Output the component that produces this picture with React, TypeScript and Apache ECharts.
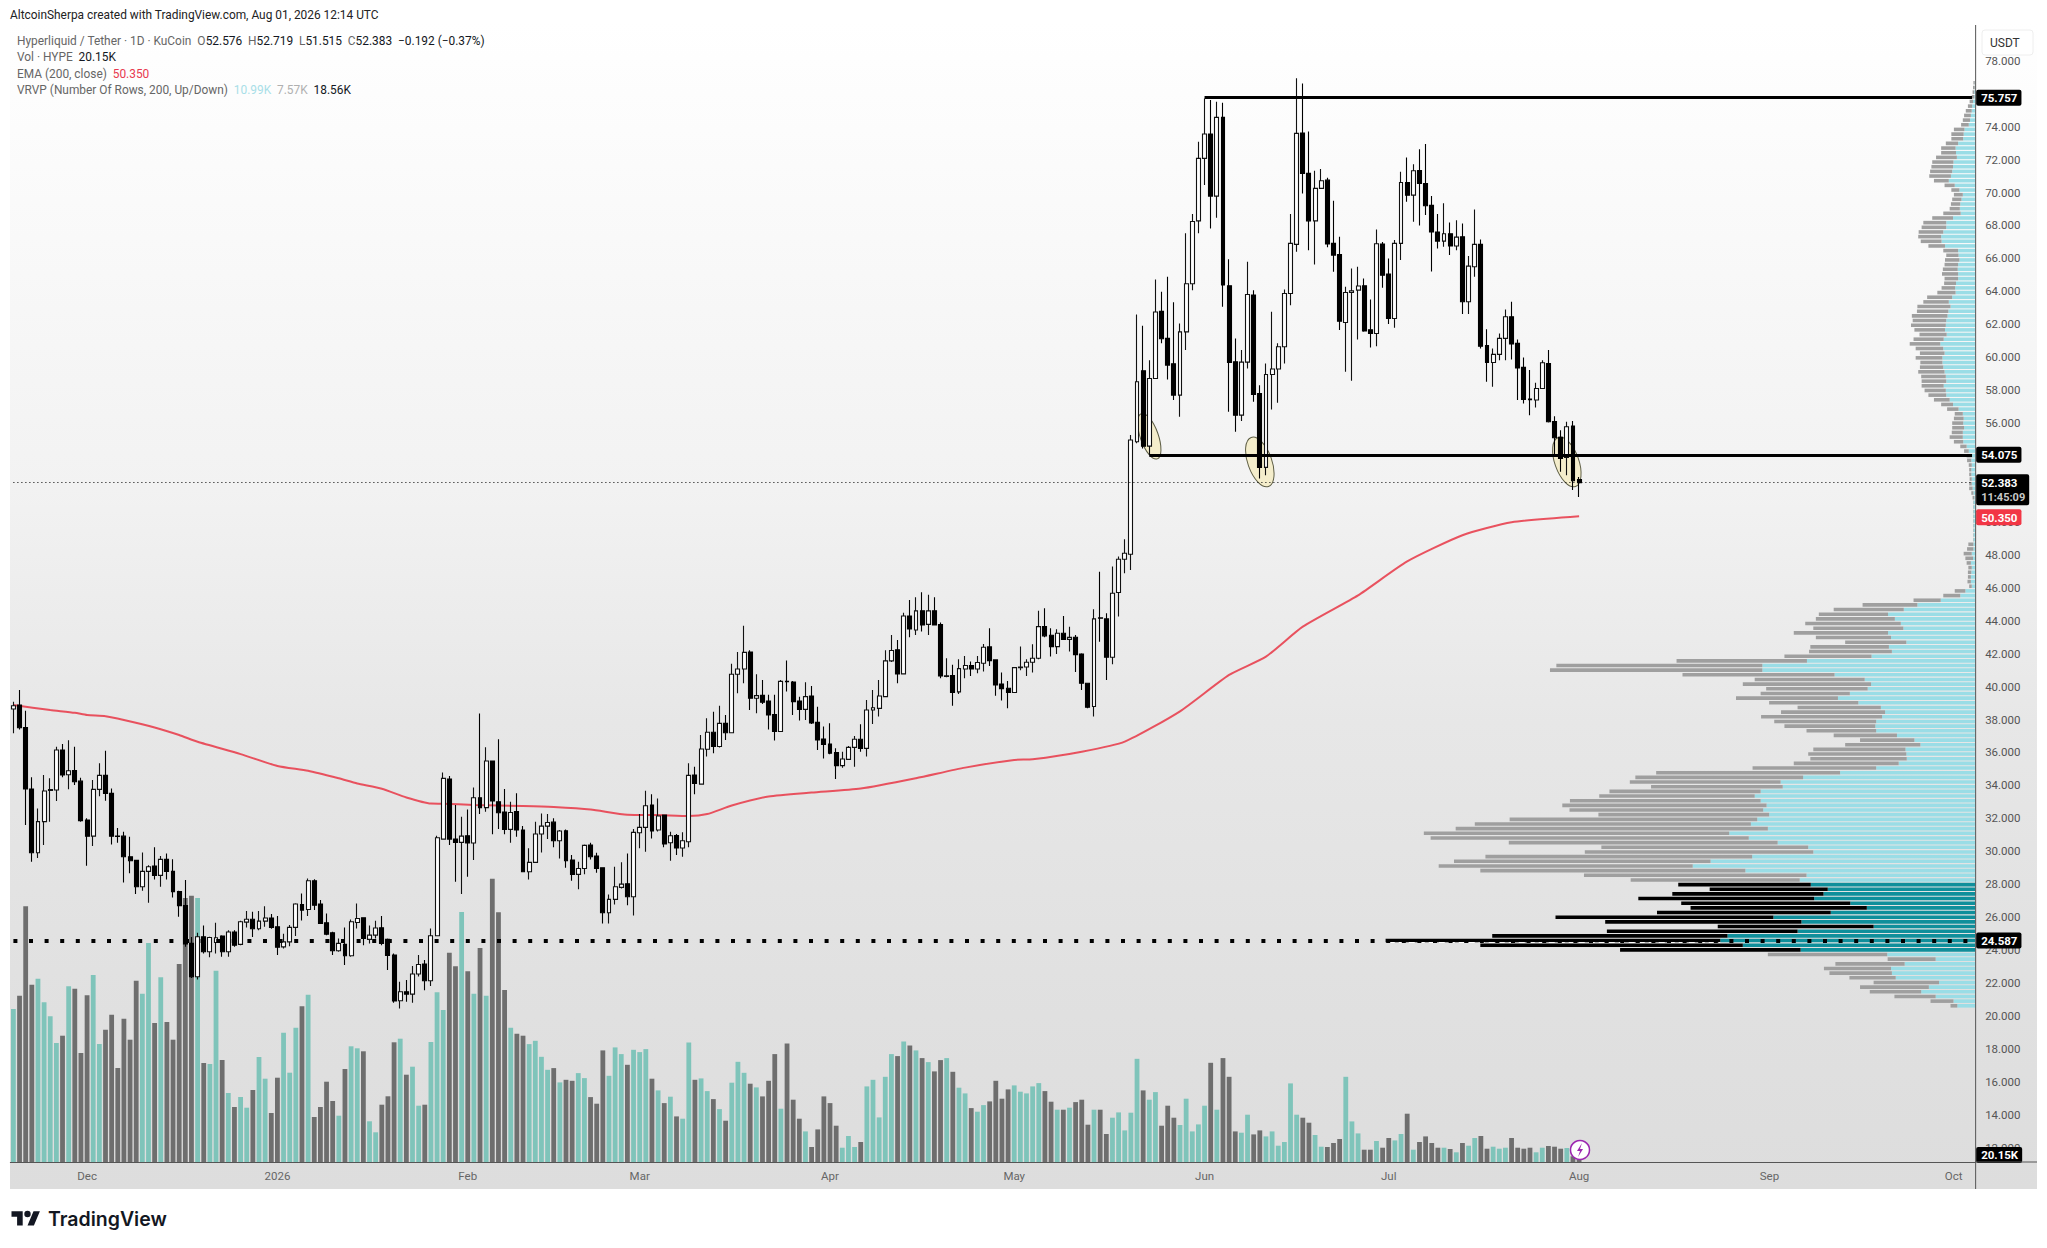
import React, { useEffect, useRef } from "react";
import * as echarts from "echarts";

const FONT = "Roboto, 'Noto Sans', sans-serif";

const opens = [
  38.64,38.88,37.52,33.78,29.91,31.80,33.70,33.72,36.15,34.65,
  34.91,34.26,31.90,30.92,33.76,34.61,33.52,30.92,30.92,29.67,
  29.45,27.85,28.78,29.10,28.54,29.51,28.78,27.55,26.70,24.41,
  22.38,24.81,23.90,24.46,24.85,23.90,25.10,24.35,25.70,25.87,
  25.30,25.76,25.95,25.42,24.20,24.50,25.38,26.77,26.47,28.21,
  26.80,25.66,25.05,23.96,24.35,23.66,25.68,25.96,24.65,24.91,
  25.36,24.65,23.70,20.93,21.47,21.33,22.55,23.15,22.14,24.87,
  30.74,34.39,30.74,30.54,30.94,30.50,33.25,32.65,35.48,33.01,
  32.38,31.33,32.42,31.29,28.76,29.33,31.05,31.53,31.77,30.64,
  31.25,29.47,28.60,28.96,30.38,29.71,29.00,26.27,27.08,27.81,
  28.03,27.24,31.13,31.45,32.81,31.29,32.20,30.52,30.96,30.20,
  30.58,34.63,34.08,36.20,37.23,36.36,37.77,37.20,40.75,41.07,
  42.10,39.29,39.47,39.13,38.30,37.27,40.32,40.28,39.13,38.62,
  39.43,37.83,36.82,36.51,35.99,35.20,35.58,36.31,36.80,36.25,
  38.58,38.68,39.39,41.56,42.23,40.77,44.29,43.44,44.60,43.78,
  44.60,43.76,40.62,40.67,39.68,41.07,41.28,41.07,41.42,42.41,
  41.62,40.16,39.90,39.64,41.15,41.19,41.48,41.72,43.64,43.12,
  42.43,43.24,42.87,43.00,41.98,40.20,38.79,44.17,44.11,41.78,
  45.71,47.73,48.04,54.87,59.18,54.60,58.71,62.78,61.14,59.60,
  57.70,61.54,64.46,68.28,72.07,73.55,69.78,74.56,64.34,59.72,
  56.48,59.70,63.77,57.80,53.31,58.95,59.28,60.63,63.87,66.85,
  73.61,71.16,68.28,70.25,70.75,66.91,66.24,62.11,63.93,64.07,
  64.34,61.67,61.44,66.87,65.05,62.35,66.91,70.61,69.84,71.34,
  70.55,69.22,67.60,67.05,67.50,66.75,67.31,63.37,65.49,66.85,
  60.71,59.68,60.17,61.14,62.46,60.84,59.38,57.46,57.40,58.10,
  59.62,56.10,55.13,53.91,55.82,52.576,
];
const closes = [
  38.84,37.50,33.78,29.91,31.80,33.66,33.75,36.15,34.63,34.89,
  34.22,31.86,30.92,33.76,34.61,33.52,30.92,30.90,29.67,29.43,
  27.85,28.78,29.06,28.54,29.51,28.78,27.55,26.70,24.37,22.38,
  24.81,23.90,24.77,24.75,23.90,25.10,24.30,25.72,25.87,25.30,
  25.76,25.95,25.38,24.17,24.50,25.38,26.80,26.43,28.21,26.73,
  25.62,24.97,23.96,24.41,23.66,25.72,25.92,24.71,24.91,25.34,
  24.41,23.68,20.91,21.47,21.33,22.55,23.13,22.14,24.87,30.82,
  34.43,30.74,30.54,30.92,30.50,33.25,32.65,35.48,33.05,32.34,
  31.33,32.36,31.29,28.76,29.33,31.05,31.53,31.75,30.64,31.23,
  29.43,28.60,28.96,30.36,29.67,28.96,26.27,27.08,27.85,28.01,
  27.24,31.15,31.45,32.77,31.23,32.14,30.44,30.94,30.20,30.64,
  34.61,34.12,36.21,37.23,36.36,37.77,37.20,40.75,41.07,42.08,
  39.29,39.45,39.05,38.28,37.27,40.32,40.30,39.09,38.62,39.39,
  37.79,36.76,36.49,35.95,35.20,35.60,36.31,36.80,36.25,38.58,
  38.72,39.43,41.56,42.19,40.77,44.29,43.50,44.60,43.74,44.60,
  43.74,40.65,40.65,39.64,41.09,41.28,41.07,41.46,42.39,41.58,
  40.10,39.88,39.64,41.15,41.19,41.48,41.72,43.64,43.08,42.43,
  43.24,42.87,42.99,41.94,40.20,38.75,44.11,44.15,41.78,45.67,
  47.73,48.10,54.97,58.51,54.60,58.71,62.74,61.12,59.52,57.70,
  61.54,64.46,68.24,72.07,73.55,69.78,74.56,64.38,59.68,56.48,
  59.70,63.81,57.74,53.31,58.95,59.28,60.63,63.87,66.91,73.59,
  71.16,68.28,70.25,70.71,66.87,66.20,62.19,63.93,64.03,64.32,
  61.59,61.44,66.89,64.98,62.35,66.91,70.61,69.84,71.32,70.55,
  69.20,67.60,67.05,67.50,66.75,67.29,63.37,65.53,66.85,60.67,
  59.68,60.17,61.14,62.46,60.80,59.34,57.44,57.42,58.10,59.66,
  56.08,55.11,53.85,55.78,52.50,52.383,
];
const highs = [
  39.08,39.79,38.54,34.49,32.60,34.63,34.43,36.35,36.51,36.75,
  36.35,34.47,32.00,34.33,35.34,36.11,33.82,31.41,31.19,30.88,
  29.45,29.93,29.16,30.24,29.71,29.87,29.51,27.60,28.25,24.80,
  25.06,25.50,24.81,25.66,24.90,25.20,25.20,25.78,26.37,26.33,
  26.37,26.67,26.20,26.07,25.00,25.52,26.84,27.44,28.35,28.31,
  27.04,26.23,25.12,24.70,25.38,25.86,26.83,26.00,25.50,25.78,
  26.07,24.71,23.80,22.08,22.18,23.03,23.70,23.40,25.32,30.95,
  34.79,34.57,32.81,32.10,32.54,33.88,38.37,36.31,35.48,36.81,
  33.78,33.01,33.52,31.53,30.18,31.80,32.30,32.26,32.00,31.29,
  31.33,29.77,29.37,30.42,30.52,29.91,29.00,27.38,29.06,29.33,
  29.87,31.35,32.26,33.68,33.47,33.21,32.20,31.19,31.05,31.15,
  35.34,35.14,37.06,38.08,38.48,38.83,38.28,41.38,42.10,43.70,
  42.20,40.75,40.40,39.50,39.50,40.40,41.58,40.34,39.39,40.26,
  40.04,38.78,37.57,37.77,36.25,36.05,36.40,37.00,37.71,39.19,
  39.80,40.40,42.20,43.14,42.83,44.49,45.26,45.42,45.73,45.57,
  45.42,43.89,41.72,41.32,41.66,41.86,41.52,41.86,42.59,43.54,
  41.62,40.85,40.34,41.15,42.43,41.66,42.57,44.61,44.76,43.54,
  43.48,44.29,43.64,43.14,42.02,40.20,44.70,46.98,44.45,47.29,
  47.90,48.95,55.27,62.60,61.91,59.82,64.72,63.97,64.88,63.33,
  62.05,67.52,68.69,73.08,75.71,75.61,75.51,75.45,65.94,61.14,
  60.43,65.80,64.07,58.30,59.62,62.76,60.84,64.11,68.69,76.93,
  76.62,73.71,71.32,71.42,70.90,69.50,67.31,64.28,65.39,65.49,
  64.78,63.50,67.76,67.00,66.00,67.11,71.26,72.13,71.71,72.62,
  72.94,69.78,68.69,69.34,68.18,68.32,68.12,66.14,68.97,67.15,
  61.69,60.53,61.44,62.90,63.37,61.08,59.98,59.22,58.45,59.82,
  60.43,56.42,55.57,56.08,56.12,52.719,
];
const lows = [
  37.16,37.40,31.59,29.37,29.60,30.38,31.80,33.05,34.49,33.76,
  34.02,31.80,29.12,30.32,33.35,33.07,30.42,30.52,28.11,28.66,
  27.40,27.60,26.88,28.29,27.85,28.29,27.20,26.03,24.20,22.30,
  22.22,23.80,23.56,23.80,23.60,23.60,24.20,24.30,25.38,24.80,
  25.20,25.42,25.30,23.70,24.10,24.24,24.85,25.80,26.07,26.43,
  25.58,24.91,23.70,23.90,23.09,23.60,25.32,24.30,24.40,24.70,
  24.30,22.79,20.80,20.46,20.87,20.81,22.40,21.57,21.82,24.87,
  30.70,30.38,28.15,27.40,28.46,29.47,32.26,32.40,31.03,31.35,
  31.03,30.52,30.88,28.76,28.29,29.30,29.93,30.74,30.24,29.57,
  29.00,28.21,27.70,28.60,29.50,28.70,25.62,25.62,26.77,27.74,
  26.73,26.10,30.18,29.97,30.78,31.20,30.24,29.43,29.77,29.67,
  30.24,33.47,34.08,35.75,35.95,36.30,36.76,37.17,39.60,40.20,
  38.58,38.38,38.95,37.40,36.72,37.27,39.70,38.28,37.94,37.97,
  37.73,36.15,35.64,35.90,34.39,35.08,35.54,35.14,36.05,35.75,
  37.73,38.18,39.39,41.50,40.20,40.77,43.00,43.14,43.34,43.14,
  43.74,40.50,40.57,38.83,39.55,40.50,40.65,40.81,40.91,41.25,
  39.45,39.15,38.68,39.64,41.00,40.65,40.85,41.66,43.00,41.82,
  41.98,42.83,42.13,40.89,39.80,38.68,38.18,42.73,40.40,41.36,
  44.25,46.88,47.08,54.77,54.46,54.06,58.71,60.84,58.65,57.40,
  56.38,60.43,64.07,67.52,70.45,67.82,68.47,63.06,56.69,55.47,
  56.12,59.32,57.29,52.64,52.84,56.83,57.23,59.62,63.16,66.40,
  69.94,66.50,65.63,70.25,66.67,65.19,61.65,59.12,58.57,61.08,
  61.54,60.59,60.67,64.22,62.01,61.79,65.90,69.44,68.22,67.99,
  68.63,65.20,66.60,66.70,66.20,66.50,62.62,62.62,64.88,60.53,
  58.51,58.20,59.82,59.82,59.86,57.40,57.19,56.48,56.95,58.10,
  56.04,54.10,53.04,52.84,51.93,51.515,
];
const volumes = [
  1530,1663,2557,1773,1833,1597,1457,1190,1263,1757,
  1733,1090,1667,1870,1180,1323,1473,940,1433,1223,
  1813,1683,2190,1390,1847,1400,1223,1980,2640,2663,
  2640,990,980,1913,1020,690,550,650,543,720,
  1050,833,490,843,1293,893,1343,1557,1673,450,
  550,803,610,463,930,1157,1137,1107,407,297,
  573,657,1197,1233,873,953,563,573,1200,1697,
  1520,2093,1957,2500,1907,1683,2140,1663,2833,2497,
  1720,1343,1283,1263,1179,1212,1052,922,939,796,
  822,812,889,839,649,583,1116,862,1146,1079,
  972,1122,1099,1129,833,716,589,653,456,433,
  1195,822,836,709,629,529,413,793,1002,892,
  783,746,656,812,1079,533,1185,623,433,306,
  150,326,656,589,363,143,260,150,200,756,
  822,446,852,1079,1059,1205,1165,1116,1039,999,
  906,1019,1039,902,743,686,539,503,569,606,
  812,633,726,766,703,686,756,789,709,603,
  523,523,543,599,623,373,523,523,280,443,
  496,316,493,1032,716,623,699,363,563,443,
  370,633,306,376,563,992,523,1039,852,306,
  293,473,276,316,256,306,163,200,786,473,
  443,393,270,153,150,190,230,852,406,286,
  123,123,210,143,240,216,280,483,123,200,
  256,190,143,143,130,97,190,163,240,260,
  133,153,133,143,240,143,133,143,97,143,
  160,153,133,140,57,20.15,
];

const emaIndex = [0,6,10,12,15,18,23,27,30,37,43,48,53,56,60,64,68,70,75,83,88,94,100,105,110,113,117,123,130,138,147,155,163,166,174,181,190,198,204,210,219,227,236,244,255];
const emaValues = [38.88,38.58,38.41,38.27,38.2,37.97,37.52,37.06,36.65,35.9,35.18,34.89,34.43,34.12,33.8,33.27,32.9,32.89,32.81,32.75,32.69,32.54,32.22,32.2,32.14,32.26,32.78,33.33,33.57,33.81,34.44,35.08,35.55,35.59,36.05,36.66,38.5,40.71,41.82,43.64,45.54,47.6,49.19,49.98,50.35];

// Volume profile rows, lowest price first: buy volume and sell volume.
const vrvpUp = [
  42,51,93,127,109,85,187,196,198,166,93,207,411,547,600,583,418,239,409,475,340,255,294,379,357,347,387,413,397,541,
  665,623,525,381,393,465,533,579,488,528,513,485,499,491,505,519,505,453,458,405,318,233,180,161,162,164,129,143,184,233,
  235,233,219,212,222,275,323,295,253,245,260,331,501,501,396,244,196,203,162,198,205,169,175,189,205,168,136,81,35,23,
  8,10,10,9,8,10,5,8,4,4,
  4,4,4,4,4,4,4,4,4,2,4,6,8,8,9,9,8,9,8,15,20,28,29,29,26,28,27,29,39,52,60,68,69,74,68,69,72,75,77,77,
  72,75,82,74,67,71,69,68,65,63,58,62,54,46,47,45,40,40,41,40,37,39,40,71,79,80,75,68,68,52,34,36,35,32,29,37,48,62,57,54,
  52,51,43,45,46,40,28,27,25,15,12,10,8,7,5,2,2,1,1,
];
const vrvpDown = [
  16,54,97,121,162,154,109,147,158,163,113,281,425,618,788,554,449,367,462,513,409,415,398,414,356,278,312,398,524,624,
  598,604,628,538,487,633,749,719,735,650,583,402,456,481,449,366,356,310,355,395,433,291,247,227,231,217,177,128,149,164,
  214,240,285,245,196,210,240,210,239,302,259,358,500,485,307,205,195,185,144,177,222,212,225,186,163,165,129,64,40,25,
  6,8,7,8,8,10,18,19,15,12,
  1,1,1,1,1,1,1,1,1,4,5,8,6,5,5,5,7,10,12,11,15,22,31,26,28,26,23,19,27,28,37,42,50,52,58,58,62,55,52,63,
  58,65,72,71,64,72,82,79,84,74,78,60,59,43,32,28,32,38,35,32,34,29,35,39,49,54,58,58,54,49,41,24,22,22,21,19,24,35,51,52,
  51,50,49,35,34,29,28,29,25,18,17,16,14,10,8,6,4,4,3,
];
const vrvpLowPrice = 20.62;
const vrvpHighPrice = 76.66;
const valueAreaLow = 23.85;
const valueAreaHigh = 28.15;

const tickLabels: Record<string, string> = {
  "2025-12-01": "Dec", "2026-01-01": "2026", "2026-02-01": "Feb", "2026-03-01": "Mar",
  "2026-04-01": "Apr", "2026-05-01": "May", "2026-06-01": "Jun", "2026-07-01": "Jul",
  "2026-08-01": "Aug", "2026-09-01": "Sep", "2026-10-01": "Oct",
};
const categories: string[] = [];
for (let i = 0; i < 320; i++) {
  categories.push(new Date(Date.UTC(2025, 10, 19 + i)).toISOString().slice(0, 10));
}
const hiddenPriceLabels = [10, 52, 54, 76, 80];

const ellipses = [
  { i: 185, price: 55.2, rx: 9, ry: 24 },
  { i: 203, price: 53.64, rx: 12, ry: 26 },
  { i: 253, price: 53.64, rx: 12, ry: 26 },
];

const LEFT = 10.33;
const RIGHT_X = 1975.13;
const PRICE_TOP = 27.8;
const PRICE_BOTTOM = 1180.7;
const VOL_BASE = 1162;

echarts.graphic.registerShape(
  "tvLogo",
  echarts.graphic.extendPath("M14 22H7V11H0V4h14v18zM28 22h-8l7.5-18h8L28 22zM24 7.5a4 4 0 1 1-8 0 4 4 0 0 1 8 0z", {})
);

function tag(value: number, text: string, bg: string, offset: number[] = [0, 0]) {
  return {
    yAxis: value,
    lineStyle: { color: "rgba(0,0,0,0)", width: 0 },
    label: {
      show: true, position: "end", distance: 1, formatter: text, offset, opacity: 1,
      color: "#fff", backgroundColor: bg, borderRadius: 2, padding: [2, 4, 1, 5],
      fontFamily: FONT, fontSize: 11.5, fontWeight: "bold", lineHeight: 13, align: "left",
      rich: {
        t: { color: "#fff", fontFamily: FONT, fontSize: 11.5, fontWeight: "bold", lineHeight: 14 },
        s: { color: "#c8c8c8", fontFamily: FONT, fontSize: 11, lineHeight: 14 },
      },
    },
  };
}

function hLine(start: number, value: number, width: number, type: any, end = 319, color = "#000") {
  return [
    { coord: [start, value], lineStyle: { color, width, type, cap: "butt" }, label: { show: false } },
    { coord: [end, value] },
  ];
}

export default function App() {
  const ref = useRef<HTMLDivElement>(null);
  useEffect(() => {
    const chart = echarts.init(ref.current!, undefined, { renderer: "svg" });
    const candleData = opens.map((o, i) => [o, closes[i], lows[i], highs[i]]);
    const volData = volumes.map((v, i) => ({
      value: v,
      itemStyle: { color: closes[i] >= opens[i] ? "#7fc4ba" : "#6e6e6e" },
    }));
    const step = (vrvpHighPrice - vrvpLowPrice) / (vrvpUp.length - 1);
    const vrvpData = vrvpUp.map((u, i) => [vrvpLowPrice + i * step, u, vrvpDown[i]]);

    const text = (x: number, y: number, t: string, rich: any, extra: any = {}) => ({
      type: "text", x, y, z: 100,
      style: { text: t, fontFamily: FONT, fontSize: 11.9, fill: "#555", verticalAlign: "middle", rich, ...extra },
    });
    const richBase = {
      l: { fill: "#666", fontFamily: FONT, fontSize: 11.9 },
      v: { fill: "#131722", fontFamily: FONT, fontSize: 11.9 },
      r: { fill: "#e8384f", fontFamily: FONT, fontSize: 11.9 },
      c: { fill: "#a9dfe8", fontFamily: FONT, fontSize: 11.9 },
      g: { fill: "#b0b0b0", fontFamily: FONT, fontSize: 11.9 },
    };

    chart.setOption({
      animation: false,
      backgroundColor: "#ffffff",
      grid: [
        { left: LEFT, top: PRICE_TOP, width: RIGHT_X - LEFT, height: PRICE_BOTTOM - PRICE_TOP },
        { left: LEFT, top: VOL_BASE - 300, width: RIGHT_X - LEFT, height: 300 },
        { left: LEFT, top: PRICE_TOP, width: RIGHT_X - LEFT, height: PRICE_BOTTOM - PRICE_TOP },
      ],
      xAxis: [
        { gridIndex: 0, type: "category", data: categories, show: false },
        {
          gridIndex: 1, type: "category", data: categories,
          axisLine: { lineStyle: { color: "#555", width: 1 } },
          axisTick: { show: false },
          axisLabel: {
            color: "#666", fontFamily: FONT, fontSize: 11.5, margin: 8,
            interval: (_: number, v: string) => v in tickLabels,
            formatter: (v: string) => tickLabels[v] ?? "",
          },
        },
        { gridIndex: 2, type: "value", min: 0, max: 4626, inverse: true, show: false },
      ],
      yAxis: [
        {
          gridIndex: 0, type: "value", position: "right", min: 10, max: 80, interval: 2,
          splitLine: { show: false }, axisTick: { show: false }, axisLine: { show: false },
          axisLabel: {
            color: "#555", fontFamily: FONT, fontSize: 11.5, margin: 10,
            formatter: (v: number) => (hiddenPriceLabels.includes(v) ? "" : v.toFixed(3)),
          },
        },
        { gridIndex: 1, type: "value", min: 0, max: 3000, show: false, splitLine: { show: false } },
        { gridIndex: 2, type: "value", min: 10, max: 80, interval: 2, show: false, splitLine: { show: false } },
      ],
      series: [
        {
          type: "bar", name: "Vol", xAxisIndex: 1, yAxisIndex: 1, data: volData, barWidth: 4.8, z: 1,
          markLine: {
            silent: true, symbol: "none", z: 20, animation: false,
            data: [tag(20.15, "20.15K", "#000", [0, -5])],
          },
        },
        {
          type: "custom", name: "Marks", xAxisIndex: 0, yAxisIndex: 0, z: 2, clip: false,
          data: ellipses.map((e) => [e.i, e.price, e.rx, e.ry]),
          renderItem: (_: any, api: any) => {
            const p = api.coord([api.value(0), api.value(1)]);
            return {
              type: "ellipse", x: p[0], y: p[1], rotation: 0.34,
              shape: { cx: 0, cy: 0, rx: api.value(2), ry: api.value(3) },
              style: { fill: "#f4edcb", stroke: "#5e5e45", lineWidth: 1 },
            };
          },
        },
        {
          type: "line", name: "EMA", xAxisIndex: 0, yAxisIndex: 0, z: 3, showSymbol: false, smooth: 0.2,
          data: emaIndex.map((x, i) => [x, emaValues[i]]),
          lineStyle: { color: "#e8404f", width: 2, opacity: 0.9 },
        },
        {
          type: "candlestick", name: "HYPE", xAxisIndex: 0, yAxisIndex: 0, z: 4, barWidth: 4.4,
          data: candleData,
          itemStyle: { color: "#ffffff", color0: "#000000", borderColor: "#111111", borderColor0: "#000000", borderWidth: 1.1 },
        },
        {
          type: "custom", name: "VRVP", xAxisIndex: 2, yAxisIndex: 2, z: 5, clip: false,
          encode: { x: 1, y: 0 },
          data: vrvpData,
          renderItem: (_: any, api: any) => {
            const price = api.value(0);
            const up = api.value(1);
            const down = api.value(2);
            const a = api.coord([0, price]);
            const b = api.coord([up, price]);
            const c = api.coord([up + down, price]);
            const inArea = price >= valueAreaLow && price <= valueAreaHigh;
            const h = 3.6;
            return {
              type: "group",
              children: [
                { type: "rect", shape: { x: b[0], y: a[1] - h / 2, width: a[0] - b[0], height: h }, style: { fill: inArea ? "#0f8f9b" : "#9adde6" } },
                { type: "rect", shape: { x: c[0], y: a[1] - h / 2, width: b[0] - c[0], height: h }, style: { fill: inArea ? "#000000" : "#9f9f9f" } },
              ],
            };
          },
        },
        {
          type: "line", name: "Levels", xAxisIndex: 0, yAxisIndex: 0, z: 6, data: [], showSymbol: false,
          markLine: {
            silent: true, symbol: "none", animation: false, z: 10,
            data: [
              hLine(194, 75.757, 3, "solid"),
              hLine(185, 54.075, 3, "solid"),
              hLine(224, 24.45, 1, [6, 4], 278, "#ffffff"),
              hLine(0, 24.587, 4, [4, 11.6]),
              hLine(0, 52.383, 1, [1, 3]),
              tag(75.757, "75.757", "#000"),
              tag(54.075, "54.075", "#000"),
              tag(52.383, "{t|52.383}\n{s|11:45:09}", "#000", [0, 7]),
              tag(50.35, "50.350", "#f23645", [0, 1]),
              tag(24.587, "24.587", "#000"),
            ],
          },
        },
      ],
      graphic: [
        {
          type: "rect", z: -10, shape: { x: 10, y: 22, width: 2027, height: 1167 },
          style: {
            fill: new echarts.graphic.LinearGradient(0, 0, 0, 1, [
              { offset: 0, color: "#ffffff" },
              { offset: 0.4, color: "#f2f2f2" },
              { offset: 0.6, color: "#e7e7e7" },
              { offset: 0.85, color: "#e0e0e0" },
              { offset: 1, color: "#dddddd" },
            ]),
          },
        },
        { type: "line", z: 30, shape: { x1: RIGHT_X + 0.5, y1: 25, x2: RIGHT_X + 0.5, y2: 1189 }, style: { stroke: "#555", lineWidth: 1 } },
        { type: "line", z: 30, shape: { x1: RIGHT_X, y1: VOL_BASE, x2: 2037, y2: VOL_BASE }, style: { stroke: "#555", lineWidth: 1 } },
        { type: "rect", z: 90, shape: { x: 1982, y: 30, width: 51, height: 25, r: 3 }, style: { fill: "#fff", stroke: "#eeeeee", lineWidth: 1 } },
        { type: "text", x: 1990, y: 43, z: 91, style: { text: "USDT", fontFamily: FONT, fontSize: 12, fill: "#333", verticalAlign: "middle" } },
        text(10, 15, "AltcoinSherpa created with TradingView.com, Aug 01, 2026 12:14 UTC", richBase, { fill: "#222" }),
        text(17, 41, "{l|Hyperliquid / Tether · 1D · KuCoin  O}{v|52.576}{l|  H}{v|52.719}{l|  L}{v|51.515}{l|  C}{v|52.383}{v|  −0.192 (−0.37%)}", richBase),
        text(17, 57, "{l|Vol · HYPE}{v|  20.15K}", richBase),
        text(17, 74, "{l|EMA (200, close)}{r|  50.350}", richBase),
        text(17, 90, "{l|VRVP (Number Of Rows, 200, Up/Down)}{c|  10.99K}{g|  7.57K}{v|  18.56K}", richBase),
        { type: "tvLogo", x: 11.5, y: 1208, scaleX: 0.8, scaleY: 0.8, z: 50, style: { fill: "#131722" } },
        { type: "text", x: 48, y: 1219, z: 50, style: { text: "TradingView", fontFamily: "Inter, Roboto, sans-serif", fontSize: 19.5, fontWeight: 600, fill: "#131722", verticalAlign: "middle" } },
        { type: "circle", z: 60, shape: { cx: 1580, cy: 1150, r: 9.5 }, style: { fill: "#fff", stroke: "#9c27b0", lineWidth: 1.5 } },
        { type: "polygon", z: 61, shape: { points: [[1582, 1143], [1577, 1151], [1580, 1151], [1578, 1157], [1583, 1149], [1580, 1149]] }, style: { fill: "#9c27b0" } },
      ],
    });
    return () => chart.dispose();
  }, []);
  return <div ref={ref} style={{ position: "fixed", left: 0, top: 0, width: 2047, height: 1248 }} />;
}
